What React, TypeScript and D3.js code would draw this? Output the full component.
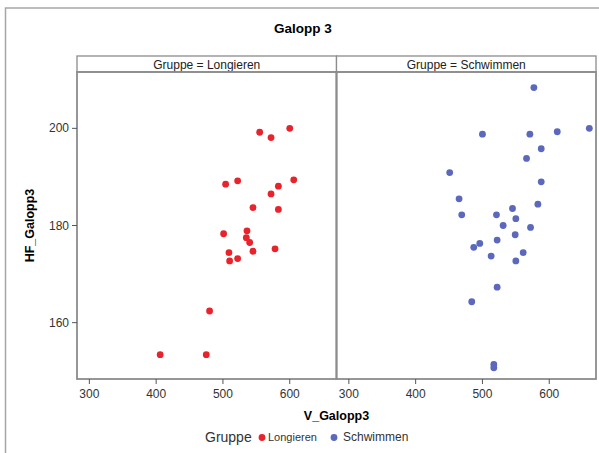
import React from 'react';
import * as d3 from 'd3';

const title = 'Galopp 3';
const groups = ['Longieren', 'Schwimmen'];
const colors = ['#E8232B', '#5B68BC'];
const xLabel = 'V_Galopp3';
const yLabel = 'HF_Galopp3';
const xTicks = [300, 400, 500, 600];
const yTicks = [160, 180, 200];

const longierenV = [555, 572, 600, 522, 504, 606, 583, 572, 545, 583, 501, 536, 535, 540, 509, 545, 578, 510, 522, 480, 406, 475];
const longierenHF = [199.2, 198.1, 200.0, 189.2, 188.5, 189.4, 188.1, 186.5, 183.7, 183.3, 178.3, 178.9, 177.5, 176.5, 174.4, 174.7, 175.2, 172.7, 173.2, 162.4, 153.4, 153.4];
const schwimmenV = [577, 500, 571, 612, 660, 588, 566, 451, 588, 465, 583, 545, 469, 521, 550, 531, 572, 549, 522, 496, 487, 513, 561, 550, 522, 484, 517, 517];
const schwimmenHF = [208.4, 198.8, 198.8, 199.3, 200.0, 195.8, 193.8, 190.9, 189.0, 185.5, 184.4, 183.5, 182.2, 182.2, 181.4, 180.0, 179.6, 178.1, 177.0, 176.3, 175.5, 173.7, 174.4, 172.7, 167.3, 164.3, 151.4, 150.7];

const seriesV = [longierenV, schwimmenV];
const seriesHF = [longierenHF, schwimmenHF];

const W = 599;
const H = 453;
const plotTop = 72;
const plotBottom = 379;
const stripTop = 56;
const panelLeft = [77, 336.5];
const panelW = 259.5;
const xDomain: [number, number] = [281.5, 670];
const yDomain: [number, number] = [148.4, 211.6];

const tickFont = '"Liberation Sans", Arial, sans-serif';

export default function App() {
  const y = d3.scaleLinear().domain(yDomain).range([plotBottom, plotTop]);
  const xs = panelLeft.map((l) => d3.scaleLinear().domain(xDomain).range([l, l + panelW]));
  const border = '#8c8c8c';
  const plotMid = (panelLeft[0] + panelLeft[1] + panelW) / 2;

  return (
    <svg
      width={W}
      height={H}
      style={{ position: 'absolute', left: 0, top: 0, background: '#fff' }}
      fontFamily={tickFont}
    >
      <rect x={0} y={0} width={W} height={H} fill="#fff" />
      {/* outer frame */}
      <rect x={5.5} y={8} width={W + 10} height={H + 10} fill="none" stroke="#a6a6a6" strokeWidth={1.5} />
      <text x={303} y={33} textAnchor="middle" fontSize={13.5} fontWeight="bold" fill="#000">
        {title}
      </text>

      {groups.map((g, i) => {
        const x = xs[i];
        const l = panelLeft[i];
        return (
          <g key={g}>
            {/* strip */}
            <rect x={l} y={stripTop} width={panelW} height={plotTop - stripTop} fill="#fff" stroke={border} strokeWidth={1.3} />
            <text x={l + panelW / 2} y={68.5} textAnchor="middle" fontSize={12} fill="#222">
              {`Gruppe = ${g}`}
            </text>
            {/* points */}
            {seriesV[i].map((v, k) => (
              <circle key={k} cx={x(v)} cy={y(seriesHF[i][k])} r={3.4} fill={colors[i]} />
            ))}
            {/* panel frame */}
            <rect x={l} y={plotTop} width={panelW} height={plotBottom - plotTop} fill="none" stroke={border} strokeWidth={1.8} />
            {/* x ticks */}
            {xTicks.map((t) => (
              <g key={t}>
                <line x1={x(t)} x2={x(t)} y1={plotBottom} y2={plotBottom + 5} stroke="#555" strokeWidth={1} />
                <text x={x(t)} y={plotBottom + 19} textAnchor="middle" fontSize={12} fill="#333">
                  {t}
                </text>
              </g>
            ))}
          </g>
        );
      })}

      {/* y ticks */}
      {yTicks.map((t) => (
        <g key={t}>
          <line x1={panelLeft[0] - 5} x2={panelLeft[0]} y1={y(t)} y2={y(t)} stroke="#555" strokeWidth={1} />
          <text x={panelLeft[0] - 8} y={y(t) + 4} textAnchor="end" fontSize={12} fill="#333">
            {t}
          </text>
        </g>
      ))}

      {/* axis titles */}
      <text x={plotMid} y={420} textAnchor="middle" fontSize={12.5} fontWeight="bold" fill="#000">
        {xLabel}
      </text>
      <text
        transform={`translate(34, ${(plotTop + plotBottom) / 2}) rotate(-90)`}
        textAnchor="middle"
        fontSize={12.5}
        fontWeight="bold"
        fill="#000"
      >
        {yLabel}
      </text>

      {/* legend */}
      <g>
        <text x={205} y={442} fontSize={14} fill="#333">Gruppe</text>
        <circle cx={262} cy={437.5} r={3.4} fill={colors[0]} />
        <text x={268} y={441} fontSize={11} fill="#333">{groups[0]}</text>
        <circle cx={334} cy={437.5} r={3.4} fill={colors[1]} />
        <text x={343} y={441} fontSize={12} fill="#333">{groups[1]}</text>
      </g>
    </svg>
  );
}
